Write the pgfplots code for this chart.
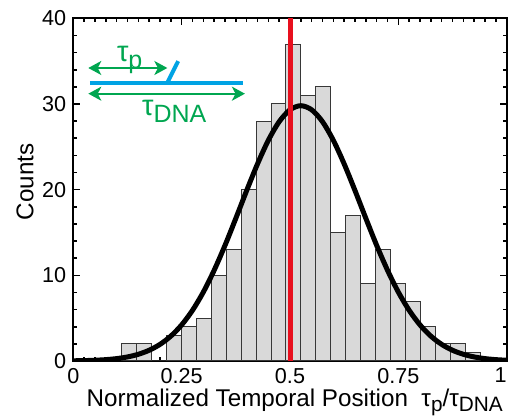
\documentclass[border=0pt]{standalone}
\usepackage{fontspec}
\setmainfont{Liberation Sans}
\usepackage{pgfplots}
\pgfplotsset{compat=1.18}
\usetikzlibrary{arrows.meta}

\definecolor{barfill}{RGB}{217,217,217}
\definecolor{baredge}{RGB}{55,55,55}
\definecolor{midred}{RGB}{232,16,30}
\definecolor{dnablue}{RGB}{0,163,228}
\definecolor{taugreen}{RGB}{0,166,80}

% lowered subscript, nearly full size as in the original figure
\newcommand{\sub}[2]{\raisebox{-0.4ex}{\fontsize{#1}{#1}\selectfont #2}}

\begin{document}
\begin{tikzpicture}
\begin{axis}[
  name=ax,
  scale only axis,
  width=216.7pt, height=171.35pt,
  xmin=0, xmax=1, ymin=0, ymax=40,
  xtick={0,0.25,0.5,0.75,1},
  xticklabels={0,0.25,0.5,0.75,1\hphantom{1}},
  ytick={0,10,20,30,40},
  minor x tick num=9,
  minor y tick num=4,
  tick align=inside,
  tick pos=both,
  major tick length=3.5pt,
  minor tick length=2pt,
  every tick/.style={black, line width=0.8pt},
  axis line style={line width=1pt},
  /pgf/number format/assume math mode=true,
  tick label style={font=\fontsize{10.8}{12}\selectfont},
  label style={font=\fontsize{12.1}{14}\selectfont},
  xlabel={Normalized Temporal Position\ \ τ\sub{10.4}{p}/τ\sub{10.4}{DNA}},
  ylabel={Counts},
  xlabel style={at={(axis description cs:0.511,-0.1334)}, anchor=base},
  ylabel style={at={(axis description cs:-0.1114,0.523)}, anchor=center},
]
% histogram (bin edges, counts)
\addplot[ybar interval, fill=barfill, draw=baredge, line width=0.5pt] coordinates {
  (0.1117,2) (0.1462,2) (0.1806,0) (0.2151,3) (0.2495,4) (0.2840,5)
  (0.3184,10) (0.3529,13) (0.3873,20) (0.4218,28) (0.4562,30) (0.4907,37)
  (0.5251,31) (0.5596,32) (0.5940,15) (0.6285,17) (0.6629,9) (0.6974,13)
  (0.7318,9) (0.7663,7) (0.8007,4) (0.8352,2) (0.8696,2) (0.9041,1)
  (0.9385,1)
};
% gaussian fit
\addplot[black, line width=2.5pt, smooth] coordinates {
  (0,0.024) (0.025,0.046) (0.05,0.087) (0.075,0.158) (0.1,0.278)
  (0.125,0.474) (0.15,0.783) (0.175,1.252) (0.2,1.938) (0.225,2.903)
  (0.25,4.211) (0.275,5.913) (0.3,8.04) (0.325,10.59) (0.35,13.49)
  (0.375,16.65) (0.4,19.89) (0.425,23.0) (0.45,25.76) (0.475,27.93)
  (0.5,29.32) (0.525,29.8) (0.55,29.32) (0.575,27.93) (0.6,25.76)
  (0.625,23.0) (0.65,19.89) (0.675,16.65) (0.7,13.49) (0.725,10.59)
  (0.75,8.04) (0.775,5.913) (0.8,4.211) (0.825,2.903) (0.85,1.938)
  (0.875,1.252) (0.9,0.783) (0.925,0.474) (0.95,0.278) (0.975,0.158)
  (1,0.087)
};
% midpoint marker
\addplot[midred, line width=2.5pt] coordinates {(0.5,0) (0.5,40)};

% inset sketch
\draw[dnablue, line width=2pt] (axis cs:0.0385,32.5) -- (axis cs:0.392,32.5);
\draw[dnablue, line width=2pt] (axis cs:0.217,32.5) -- (axis cs:0.242,35.0);
\draw[taugreen, line width=1.1pt, {Stealth[length=6.5pt,width=7pt,inset=1.8pt]}-{Stealth[length=6.5pt,width=7pt,inset=1.8pt]}]
  (axis cs:0.0346,34.2) -- (axis cs:0.217,34.2);
\draw[taugreen, line width=1.1pt, {Stealth[length=6.5pt,width=7pt,inset=1.8pt]}-{Stealth[length=6.5pt,width=7pt,inset=1.8pt]}]
  (axis cs:0.0346,31.2) -- (axis cs:0.396,31.2);
\node[taugreen, anchor=base west, inner sep=0pt, font=\fontsize{14.5}{16}\selectfont]
  at (axis cs:0.100,34.9) {τ\sub{12.5}{p}};
\node[taugreen, anchor=base west, inner sep=0pt, font=\fontsize{14.5}{16}\selectfont]
  at (axis cs:0.158,28.6) {τ\sub{12.5}{DNA}};
\end{axis}
\pgfresetboundingbox
\path ([shift={(-36.65pt,-27.5pt)}]ax.south west) rectangle ([shift={(1.15pt,9.15pt)}]ax.north east);
\end{tikzpicture}
\end{document}
